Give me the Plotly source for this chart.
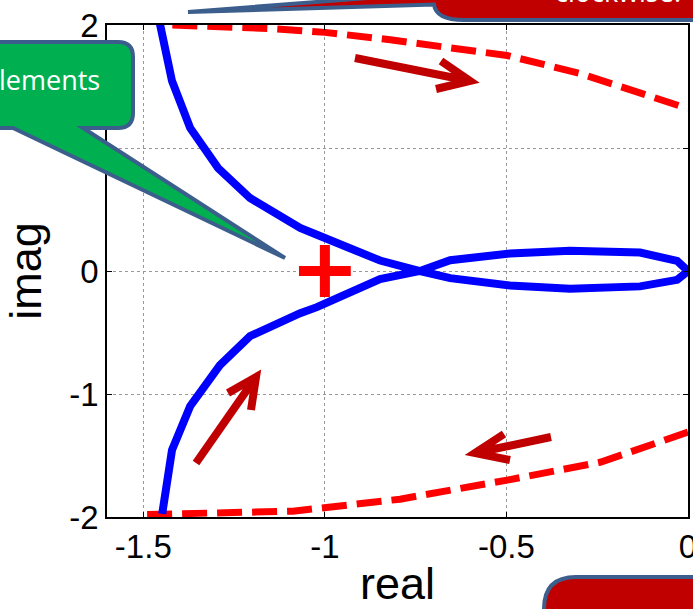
import plotly.graph_objects as go

# ---------------- data ----------------
# Nyquist locus (blue): upper-left branch -> crossing -> lower lobe -> origin -> upper lobe -> crossing -> lower-left branch
nyq_re = [-1.455, -1.421, -1.371, -1.294, -1.206, -1.068, -1.027, -0.848, -0.738,
          -0.655, -0.490, -0.325, -0.132, -0.030, 0.0,
          -0.030, -0.132, -0.325, -0.490, -0.655, -0.738,
          -0.848, -1.022, -1.068, -1.206, -1.289, -1.371, -1.421, -1.448]
nyq_im = [2.02, 1.545, 1.163, 0.837, 0.593, 0.350, 0.301, 0.085, 0.0,
          -0.058, -0.118, -0.145, -0.125, -0.072, 0.0,
          0.082, 0.150, 0.165, 0.142, 0.088, 0.0,
          -0.065, -0.294, -0.343, -0.530, -0.766, -1.099, -1.456, -1.975]

# closing arcs (red dashed)
arc_top_re = [-1.42, -1.143, -1.0, -0.82, -0.498, -0.297, 0.0]
arc_top_im = [2.0, 1.97, 1.94, 1.88, 1.752, 1.606, 1.32]
arc_bot_re = [0.0, -0.242, -0.498, -0.793, -1.088, -1.5]
arc_bot_im = [-1.31, -1.555, -1.70, -1.855, -1.953, -1.98]

# critical point
crit_re = [-1.0]
crit_im = [0.0]

x_ticks = [-1.5, -1.0, -0.5, 0.0]
x_tick_labels = ["-1.5", "-1", "-0.5", "0"]
y_ticks = [-2, -1, 0, 1, 2]
y_tick_labels = ["-2", "-1", "0", "1", "2"]

# ---------------- layout geometry ----------------
W, H = 693, 609
PL, PT, PR, PB = 107, 25, 5, 92
PW, PH = W - PL - PR, H - PT - PB


def P(x, y):
    """pixel -> paper coordinates"""
    return (x - PL) / PW, (PT + PH - y) / PH


def path(cmds):
    out = []
    for c in cmds:
        if isinstance(c, str):
            out.append(c)
        else:
            px, py = P(*c)
            out.append(f"{px:.5f},{py:.5f}")
    return " ".join(out)


fig = go.Figure()

fig.add_trace(go.Scatter(x=arc_top_re, y=arc_top_im, mode="lines",
                         line=dict(color="#FF0000", width=7, dash="25px,10px"),
                         showlegend=False, hoverinfo="skip"))
fig.add_trace(go.Scatter(x=arc_bot_re, y=arc_bot_im, mode="lines",
                         line=dict(color="#FF0000", width=7, dash="25px,10px"),
                         showlegend=False, hoverinfo="skip"))
fig.add_trace(go.Scatter(x=nyq_re, y=nyq_im, mode="lines",
                         line=dict(color="#0000FF", width=8),
                         showlegend=False))
fig.add_trace(go.Scatter(x=crit_re, y=crit_im, mode="markers",
                         marker=dict(symbol="cross-thin", size=37, color="#FF0000",
                                     line=dict(color="#FF0000", width=10)),
                         showlegend=False, cliponaxis=False))

shapes = []
border = "#3B5E8C"
# green callout
shapes.append(dict(type="path", xref="paper", yref="paper", layer="above",
                   path=path(["M", (-40, 42), "L", (118, 42), "Q", (133, 42), (133, 57),
                              "L", (133, 113), "Q", (133, 128), (118, 128),
                              "L", (83, 128), "L", (285, 258), "L", (13, 128),
                              "L", (-40, 128), "Z"]),
                   fillcolor="#00B050", line=dict(color=border, width=4)))
# top red callout
shapes.append(dict(type="path", xref="paper", yref="paper", layer="above",
                   path=path(["M", (432, -60), "L", (740, -60), "L", (740, 20),
                              "L", (464, 20), "Q", (436, 20), (434, 4.5),
                              "L", (188, 12), "L", (432, -7), "Z"]),
                   fillcolor="#C00000", line=dict(color=border, width=4)))
# bottom red callout
shapes.append(dict(type="path", xref="paper", yref="paper", layer="above",
                   path=path(["M", (544, 660), "L", (544, 609), "Q", (544, 577), (576, 577),
                              "L", (740, 577), "L", (740, 660), "Z"]),
                   fillcolor="#C00000", line=dict(color=border, width=4)))

# direction arrows
arrows = [
    ((355, 58), (470, 81), (441, 61), (436, 89)),
    ((551, 437), (475, 453), (504, 434), (510, 460)),
    ((196, 463), (256, 377), (228, 393), (251, 410)),
]
for tail, tip, w1, w2 in arrows:
    shapes.append(dict(type="path", xref="paper", yref="paper", layer="above",
                       path=path(["M", tail, "L", tip, "M", w1, "L", tip, "L", w2]),
                       line=dict(color="#C00000", width=8)))

annotations = []
gx, gy = P(102, 79)
annotations.append(dict(x=gx, y=gy, xref="paper", yref="paper", text="lements",
                        showarrow=False, xanchor="right", yanchor="middle",
                        font=dict(family="Open Sans", size=27, color="white")))
cx, cy = P(618, -8)
annotations.append(dict(x=cx, y=cy, xref="paper", yref="paper", text="clockwise.",
                        showarrow=False, xanchor="center", yanchor="middle",
                        font=dict(family="Open Sans", size=27, color="white")))

axis_common = dict(showline=True, linecolor="black", linewidth=1.5, mirror="ticks",
                   ticks="inside", ticklen=5, tickwidth=1, tickcolor="black",
                   showgrid=True, gridcolor="#999999", griddash="dot", gridwidth=1,
                   zeroline=False, ticklabeloverflow="allow",
                   tickfont=dict(family="Liberation Sans, Arial", size=33, color="black"),
                   title_font=dict(family="Liberation Sans, Arial", size=45, color="black"))

fig.update_layout(
    width=W, height=H,
    margin=dict(l=PL, r=PR, t=PT, b=PB, autoexpand=False),
    plot_bgcolor="white", paper_bgcolor="white",
    xaxis=dict(range=[-1.6, 0], tickvals=x_ticks, ticktext=x_tick_labels,
               title=dict(text="real", standoff=14), **axis_common),
    yaxis=dict(range=[-2, 2], tickvals=y_ticks, ticktext=y_tick_labels,
               title=dict(text="imag", standoff=14), **axis_common),
    shapes=shapes, annotations=annotations,
)

fig.write_html("out.html", config={"displayModeBar": False},
               post_script="document.body.style.margin='0';document.body.style.overflow='hidden';")
